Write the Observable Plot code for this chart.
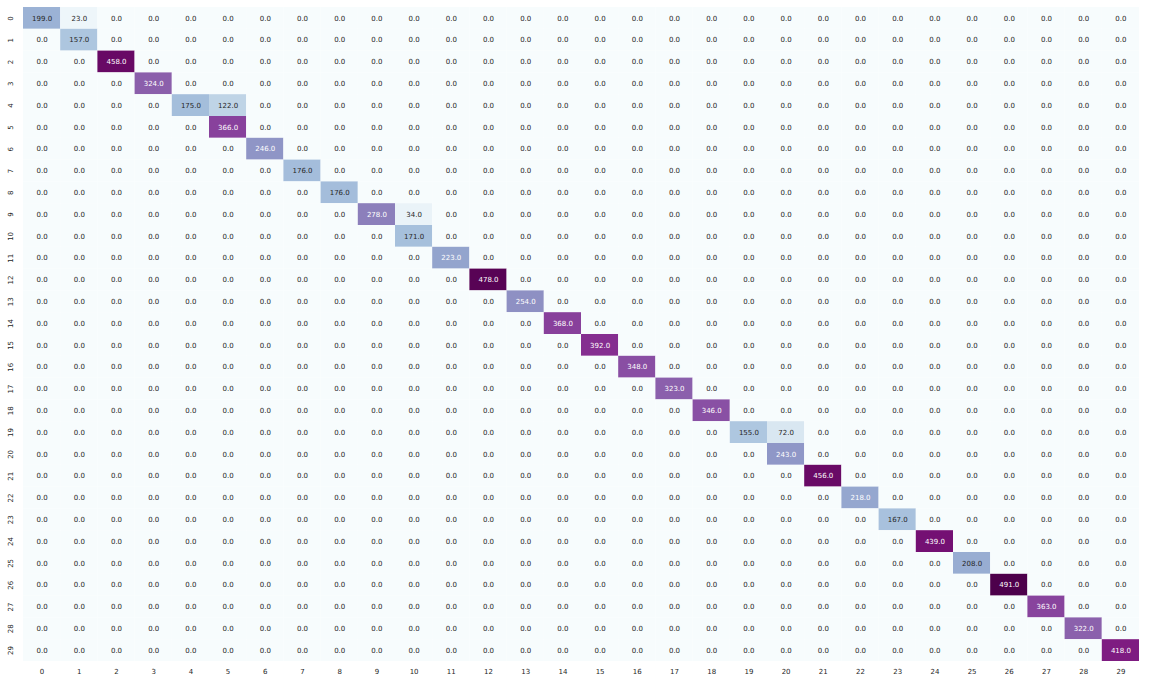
<!DOCTYPE html>
<html>
<head>
<meta charset="utf-8">
<script src="https://cdn.jsdelivr.net/npm/d3@7"></script>
<script src="https://cdn.jsdelivr.net/npm/@observablehq/plot@0.6"></script>
<style>
  html, body { margin: 0; padding: 0; background: #fff; }
  svg { display: block; }
</style>
</head>
<body>
<div id="chart"></div>
<script>
// Class labels (rows = true, columns = predicted)
const labels = d3.range(30);
// Diagonal counts
const diagonal = [199, 157, 458, 324, 175, 366, 246, 176, 176, 278, 171, 223, 478, 254, 368,
                  392, 348, 323, 346, 155, 243, 456, 218, 167, 439, 208, 491, 363, 322, 418];
// Off-diagonal non-zero entries: [row, col, count]
const offDiagonal = [[0, 1, 23], [4, 5, 122], [9, 10, 34], [19, 20, 72]];

const cells = [];
for (const r of labels) {
  for (const c of labels) {
    let v = r === c ? diagonal[r] : 0;
    const od = offDiagonal.find(d => d[0] === r && d[1] === c);
    if (od) v = od[2];
    cells.push({row: r, col: c, value: v});
  }
}
const vmax = d3.max(cells, d => d.value);
function relLum(col) {
  const c = d3.rgb(col);
  const f = x => { x /= 255; return x <= 0.03928 ? x / 12.92 : Math.pow((x + 0.055) / 1.055, 2.4); };
  return 0.2126 * f(c.r) + 0.7152 * f(c.g) + 0.0722 * f(c.b);
}
const textColor = d => relLum(d3.interpolateBuPu(d.value / vmax)) > 0.408 ? "#262626" : "#ffffff";

const chart = Plot.plot({
  width: 1151,
  height: 682,
  marginLeft: 23,
  marginTop: 7,
  marginRight: 12,
  marginBottom: 21,
  style: {fontFamily: "DejaVu Sans", fontSize: "7px", background: "#fff"},
  x: {domain: labels, padding: 0, round: false, label: null},
  y: {domain: labels, padding: 0, round: false, label: null},
  color: {type: "linear", scheme: "BuPu", domain: [0, vmax]},
  marks: [
    Plot.cell(cells, {x: "col", y: "row", fill: "value", inset: 0}),
    Plot.text(cells, {x: "col", y: "row", text: d => d.value.toFixed(1), fill: textColor, fontSize: 7}),
    Plot.axisX({anchor: "bottom", tickSize: 0, tickPadding: 8, fontSize: 7, fill: "#262626", label: null}),
    Plot.axisY({anchor: "left", tickSize: 0, tickPadding: 11, tickRotate: -90, fontSize: 7, fill: "#262626", label: null})
  ]
});
document.getElementById("chart").appendChild(chart);
</script>
</body>
</html>
